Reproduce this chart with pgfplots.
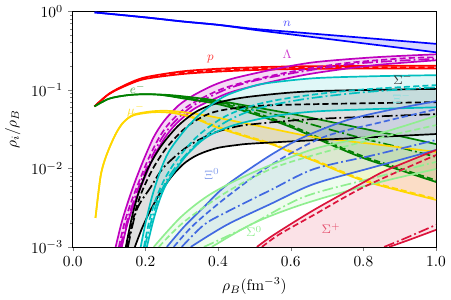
\documentclass[border=0pt]{standalone}
\usepackage{pgfplots}
\pgfplotsset{compat=1.18}
\usepgfplotslibrary{fillbetween}
\definecolor{colM}{HTML}{BF00BF}
\definecolor{colC}{HTML}{00BFBF}
\definecolor{colG}{HTML}{008000}
\definecolor{colGold}{HTML}{FFD700}
\definecolor{colRoyal}{HTML}{4169E1}
\definecolor{colLG}{HTML}{90EE90}
\definecolor{colCrim}{HTML}{DC143C}
\begin{document}
\begin{tikzpicture}
\begin{axis}[
 set layers,
 width=236pt,height=153pt,scale only axis,
 xmin=0,xmax=1,ymin=1e-3,ymax=1,ymode=log,
 xtick={0,0.2,0.4,0.6,0.8,1.0},
 xticklabel style={/pgf/number format/.cd,fixed,fixed zerofill,precision=1},
 tick align=outside, xtick pos=left, ytick pos=left,
 major tick length=2.8pt, minor tick length=1.6pt,
 xlabel={$\rho_B(\mathrm{fm}^{-3})$}, ylabel={$\rho_i/\rho_B$},
 every axis plot/.append style={line width=1.1pt,smooth,tension=0.5},
 dsh/.style={dash pattern=on 4pt off 2pt},
 dd/.style={dash pattern=on 7pt off 2pt on 1.2pt off 2pt},
 fo/.style={draw=none,fill opacity=0.15},
]
% ---- n
\addplot[blue,name path=nU] coordinates {(0.06,0.971)(0.2,0.839)(0.3,0.746)(0.4,0.674)(0.5,0.599)(0.6,0.549)(0.7,0.503)(0.8,0.461)(0.9,0.422)(1.0,0.386)};
\addplot[blue,name path=nL] coordinates {(0.06,0.971)(0.2,0.839)(0.3,0.746)(0.4,0.674)(0.5,0.582)(0.6,0.510)(0.7,0.447)(0.8,0.392)(0.9,0.344)(1.0,0.301)};
\addplot[fo,fill=blue] fill between[of=nU and nL];
% ---- p
\addplot[red,name path=pU] coordinates {(0.06,0.0617)(0.1,0.0895)(0.15,0.119)(0.2,0.145)(0.3,0.172)(0.4,0.186)(0.5,0.194)(0.6,0.199)(0.8,0.202)(1.0,0.203)};
\addplot[red,name path=pL] coordinates {(0.06,0.0617)(0.1,0.0885)(0.15,0.115)(0.2,0.138)(0.3,0.159)(0.4,0.171)(0.5,0.179)(0.6,0.184)(0.8,0.187)(1.0,0.187)};
\addplot[red,dsh] coordinates {(0.06,0.0617)(0.1,0.0889)(0.15,0.117)(0.2,0.141)(0.3,0.165)(0.4,0.178)(0.5,0.186)(0.6,0.191)(0.8,0.194)(1.0,0.195)};
\addplot[fo,fill=red] fill between[of=pU and pL];
% ---- Lambda
\addplot[colM,name path=LU] coordinates {(0.118,0.001)(0.135,0.00208)(0.152,0.00374)(0.171,0.00671)(0.196,0.01317)(0.223,0.0251)(0.251,0.0400)(0.292,0.0639)(0.333,0.0856)(0.388,0.115)(0.444,0.1408)(0.554,0.183)(0.664,0.2249)(0.829,0.260)(1.0,0.284)};
\addplot[colM,name path=LL] coordinates {(0.135,0.001)(0.152,0.00208)(0.171,0.00374)(0.193,0.00671)(0.220,0.01317)(0.251,0.0236)(0.284,0.0367)(0.333,0.0569)(0.388,0.0762)(0.444,0.0963)(0.554,0.129)(0.664,0.163)(0.829,0.206)(1.0,0.2384)};
\addplot[colM,dsh] coordinates {(0.127,0.001)(0.143,0.00208)(0.161,0.00374)(0.182,0.00671)(0.208,0.01317)(0.237,0.0243)(0.267,0.0383)(0.313,0.0603)(0.361,0.0807)(0.416,0.1051)(0.499,0.1348)(0.609,0.173)(0.747,0.218)(0.912,0.2528)(1.0,0.260)};
\addplot[colM,dd] coordinates {(0.131,0.001)(0.149,0.00208)(0.167,0.00374)(0.187,0.00671)(0.215,0.01317)(0.245,0.0243)(0.278,0.0383)(0.325,0.0603)(0.375,0.0807)(0.430,0.1051)(0.512,0.1348)(0.636,0.173)(0.788,0.218)(1.0,0.249)};
\addplot[fo,fill=colM] fill between[of=LU and LL];
% ---- e-
\addplot[colG,name path=eU] coordinates {(0.06,0.0617)(0.1,0.0773)(0.15,0.0856)(0.2,0.0882)(0.25,0.0869)(0.3,0.0832)(0.4,0.0729)(0.5,0.0603)(0.6,0.0498)(0.7,0.0400)(0.8,0.0321)(0.9,0.0258)(1.0,0.0204)};
\addplot[colG,name path=eL] coordinates {(0.06,0.0617)(0.1,0.0773)(0.15,0.0856)(0.2,0.0882)(0.25,0.0856)(0.3,0.0784)(0.4,0.0658)(0.5,0.0491)(0.6,0.0336)(0.7,0.0210)(0.8,0.01355)(0.9,0.00954)(1.0,0.00671)};
\addplot[colG,dsh] coordinates {(0.25,0.0860)(0.3,0.0795)(0.4,0.0690)(0.5,0.0515)(0.6,0.0352)(0.7,0.0221)(0.8,0.0142)(0.9,0.0100)(1.0,0.00705)};
\addplot[colG,dd] coordinates {(0.25,0.0865)(0.3,0.0815)(0.4,0.0700)(0.5,0.0560)(0.6,0.0430)(0.7,0.0320)(0.8,0.0240)(0.9,0.0185)(1.0,0.0140)};
\addplot[fo,fill=colG] fill between[of=eU and eL];
% ---- mu-
\addplot[colGold,name path=mU] coordinates {(0.0625,0.00234)(0.0763,0.00778)(0.0882,0.0128)(0.104,0.0198)(0.121,0.0290)(0.140,0.0389)(0.168,0.0484)(0.223,0.0536)(0.278,0.0536)(0.361,0.0477)(0.5,0.0356)(0.664,0.0251)(0.829,0.0204)(1.0,0.0162)};
\addplot[colGold,name path=mL] coordinates {(0.0625,0.00234)(0.0763,0.00778)(0.0882,0.0128)(0.104,0.0198)(0.121,0.0290)(0.140,0.0389)(0.168,0.0475)(0.223,0.0520)(0.278,0.0506)(0.333,0.0437)(0.394,0.0336)(0.471,0.0258)(0.554,0.0198)(0.601,0.0160)(0.664,0.0125)(0.802,0.00692)(1.0,0.00397)};
\addplot[colGold,dsh] coordinates {(0.278,0.0515)(0.333,0.0447)(0.394,0.0345)(0.471,0.0265)(0.554,0.0203)(0.601,0.0165)(0.664,0.0129)(0.802,0.00715)(1.0,0.00410)};
\addplot[fo,fill=colGold] fill between[of=mU and mL];
% ---- Sigma- (black)
\addplot[black,name path=kU] coordinates {(0.146,0.001)(0.163,0.00241)(0.182,0.00501)(0.209,0.0104)(0.245,0.0198)(0.292,0.0356)(0.347,0.0552)(0.416,0.0718)(0.499,0.0832)(0.664,0.0963)(1.0,0.103)};
\addplot[black,dsh] coordinates {(0.149,0.001)(0.168,0.00241)(0.190,0.00501)(0.223,0.0104)(0.264,0.0198)(0.320,0.0356)(0.388,0.0521)(0.499,0.0621)(0.664,0.0658)(1.0,0.0698)};
\addplot[black,dd] coordinates {(0.152,0.001)(0.176,0.00296)(0.215,0.00581)(0.251,0.0104)(0.314,0.0187)(0.380,0.0274)(0.444,0.0336)(0.499,0.0367)(0.664,0.0425)(1.0,0.0491)};
\addplot[black,name path=kL] coordinates {(0.171,0.001)(0.19,0.0017)(0.21,0.0027)(0.23,0.0040)(0.251,0.0058)(0.278,0.0085)(0.306,0.0115)(0.333,0.0140)(0.36,0.0160)(0.40,0.0183)(0.45,0.0198)(0.5,0.0208)(0.719,0.0236)(1.0,0.0274)};
\addplot[fo,fill=black,fill opacity=0.12] fill between[of=kU and kL];
% ---- Xi- (cyan)
\addplot[colC,name path=cU] coordinates {(0.187,0.001)(0.201,0.00208)(0.218,0.00433)(0.240,0.00900)(0.264,0.0162)(0.306,0.0299)(0.347,0.0477)(0.388,0.0678)(0.424,0.0856)(0.485,0.108)(0.534,0.1217)(0.664,0.1408)(0.829,0.1493)(1.0,0.154)};
\addplot[colC,dsh] coordinates {(0.196,0.001)(0.212,0.00228)(0.231,0.00433)(0.256,0.00778)(0.292,0.0140)(0.347,0.0266)(0.416,0.0450)(0.499,0.0639)(0.609,0.0807)(0.774,0.0991)(1.0,0.115)};
\addplot[colC,dd] coordinates {(0.198,0.001)(0.218,0.00228)(0.237,0.00433)(0.264,0.00778)(0.306,0.0140)(0.361,0.0251)(0.430,0.0412)(0.512,0.0585)(0.636,0.0762)(0.802,0.0935)(1.0,0.108)};
\addplot[colC,name path=cL] coordinates {(0.204,0.001)(0.223,0.00228)(0.242,0.00433)(0.264,0.00712)(0.314,0.0148)(0.369,0.0251)(0.444,0.0356)(0.554,0.0463)(0.664,0.0530)(0.829,0.0570)(1.0,0.0600)};
\addplot[fo,fill=colC,fill opacity=0.12] fill between[of=cU and cL];
% ---- Xi0 (royal blue)
\addplot[colRoyal,name path=xU] coordinates {(0.259,0.001)(0.306,0.00180)(0.361,0.00323)(0.424,0.00615)(0.545,0.0148)(0.636,0.0251)(0.755,0.0412)(0.87,0.0552)(1.0,0.0718)};
\addplot[colRoyal,dsh] coordinates {(0.278,0.001)(0.333,0.00191)(0.424,0.00433)(0.545,0.01104)(0.691,0.0251)(0.85,0.0389)(1.0,0.0567)};
\addplot[colRoyal,dd] coordinates {(0.300,0.001)(0.361,0.00191)(0.424,0.00279)(0.545,0.00531)(0.664,0.00982)(0.829,0.0148)(1.0,0.0230)};
\addplot[colRoyal,name path=xL] coordinates {(0.325,0.001)(0.424,0.00191)(0.545,0.00353)(0.664,0.00633)(0.829,0.0104)(1.0,0.0172)};
\addplot[fo,fill=colRoyal,fill opacity=0.12] fill between[of=xU and xL];
% ---- Sigma0 (light green)
\addplot[colLG,name path=sU] coordinates {(0.223,0.001)(0.298,0.00241)(0.380,0.00473)(0.499,0.00900)(0.664,0.0177)(0.829,0.0266)(1.0,0.0467)};
\addplot[colLG,dsh] coordinates {(0.237,0.001)(0.306,0.00208)(0.424,0.00501)(0.545,0.00982)(0.664,0.0148)(0.829,0.0236)(1.0,0.0356)};
\addplot[colLG,dd] coordinates {(0.361,0.001)(0.479,0.0018)(0.636,0.00433)(0.829,0.00760)(1.0,0.0121)};
\addplot[colLG,name path=sL] coordinates {(0.383,0.001)(0.499,0.00202)(0.636,0.00353)(0.829,0.00640)(1.0,0.00982)};
\addplot[fo,fill=colLG,fill opacity=0.15] fill between[of=sU and sL];
% ---- Sigma+ (crimson)
\addplot[colCrim,name path=qU] coordinates {(0.507,0.001)(0.554,0.00143)(0.664,0.00296)(0.802,0.00671)(0.865,0.00954)(1.0,0.01713)};
\addplot[colCrim,dsh] coordinates {(0.521,0.001)(0.567,0.00143)(0.664,0.00256)(0.802,0.00581)(1.0,0.0148)};
\addplot[colCrim,dd] coordinates {(0.857,0.001)(0.912,0.00127)(1.0,0.00191)};
\addplot[colCrim] coordinates {(0.871,0.001)(0.926,0.00123)(1.0,0.00165)};
\addplot[draw=none,name path=qL] coordinates {(0.49,0.0005)(0.86,0.0005)(0.871,0.001)(0.926,0.00123)(1.0,0.00165)};
\addplot[fo,fill=colCrim,fill opacity=0.12] fill between[of=qU and qL];
% ---- labels
\node[font=\footnotesize,text=blue!65!white] at (axis cs:0.59,0.69) {$n$};
\node[font=\footnotesize,text=colM!75!white] at (axis cs:0.59,0.287) {$\Lambda$};
\node[font=\footnotesize,text=red!75!white] at (axis cs:0.379,0.248) {$p$};
\node[font=\footnotesize,text=colG!70!white] at (axis cs:0.179,0.105) {$e^-$};
\node[font=\footnotesize,text=colGold!80!white] at (axis cs:0.174,0.0552) {$\mu^-$};
\node[font=\footnotesize,text=black!80!white] at (axis cs:0.909,0.137) {$\Sigma^-$};
\node[font=\footnotesize,text=colC!50!white] at (axis cs:0.906,0.0785) {$\Xi^-$};
\node[font=\footnotesize,text=colRoyal!65!white] at (axis cs:0.383,0.00849) {$\Xi^0$};
\node[font=\footnotesize,text=colLG] at (axis cs:0.499,0.00156) {$\Sigma^0$};
\node[font=\footnotesize,text=colCrim!75!white] at (axis cs:0.711,0.0017) {$\Sigma^+$};
\end{axis}
\end{tikzpicture}
\end{document}
